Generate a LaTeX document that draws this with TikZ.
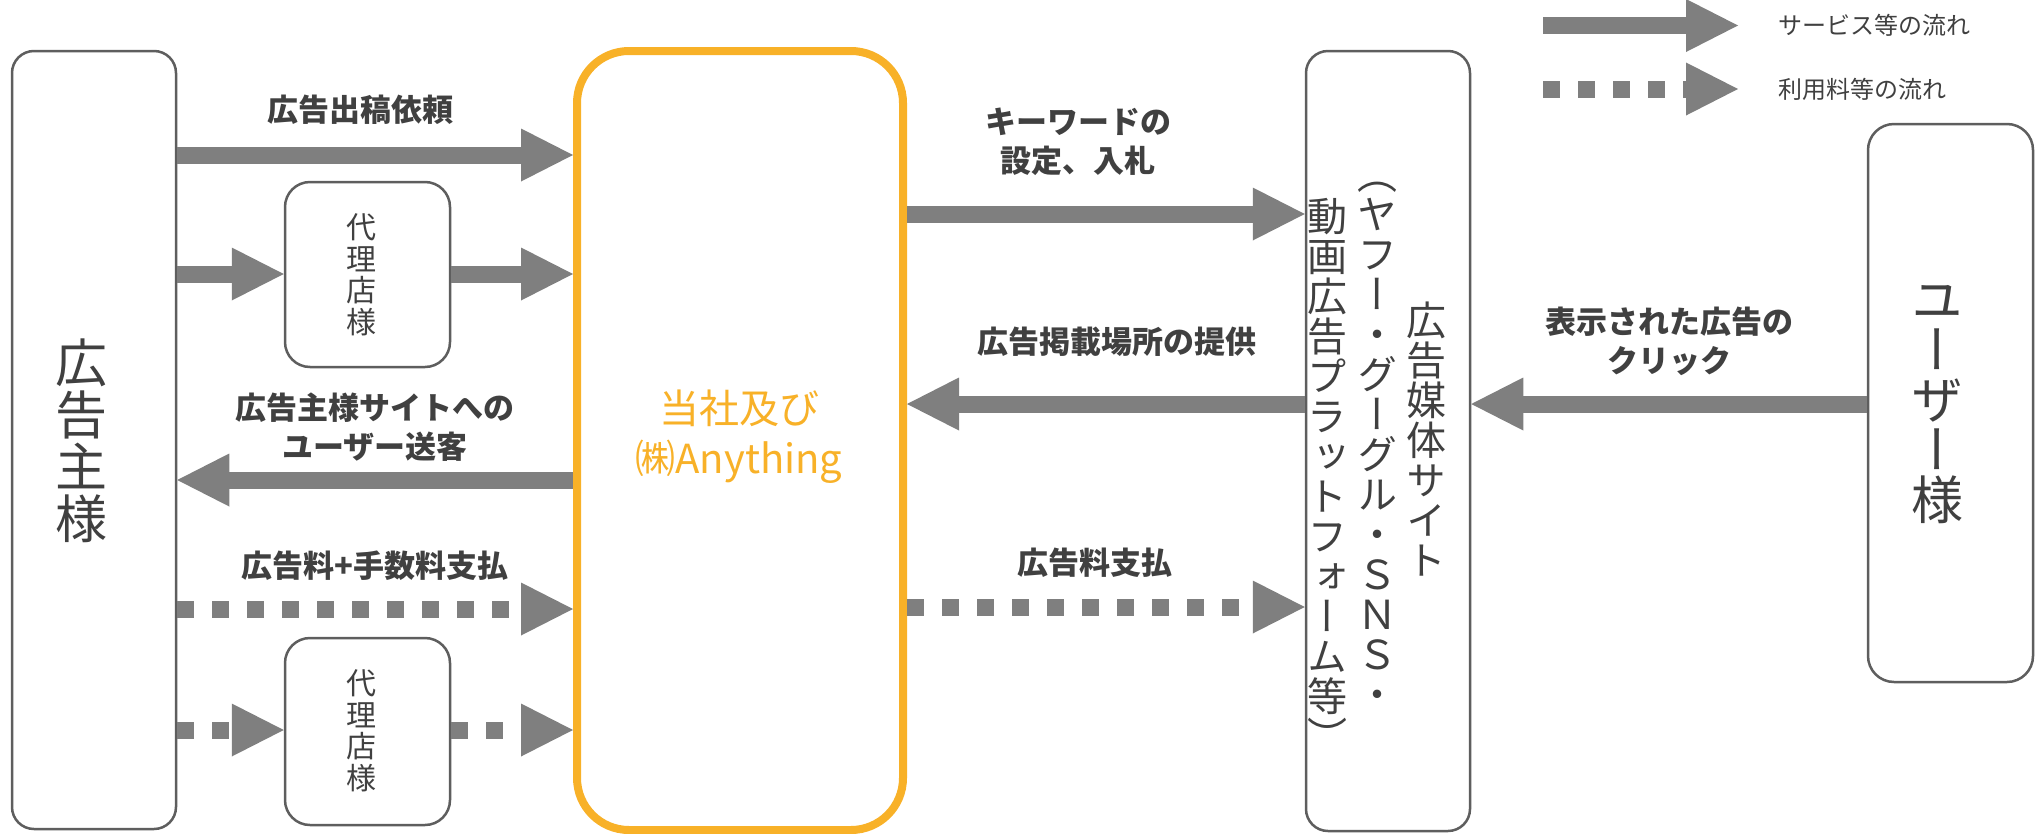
\documentclass[tikz,border=0pt]{standalone}
\usepackage{fontspec}
\setmainfont{Noto Sans CJK JP}
\newfontfamily\vjp[RawFeature=+vert]{Noto Sans CJK JP}
\usetikzlibrary{arrows.meta}
\definecolor{arrgray}{HTML}{7F7F7F}
\definecolor{boxgray}{HTML}{5E5E5E}
\definecolor{txtgray}{HTML}{404040}
\definecolor{brandorange}{HTML}{F8B128}
\begin{document}
\begin{tikzpicture}[x=1pt,y=-1pt,
  box/.style={draw=boxgray, line width=2.5pt, fill=white, inner sep=0pt, rounded corners=22pt},
  mainbox/.style={draw=brandorange, line width=8pt, fill=white, inner sep=0pt, rounded corners=52pt},
  flow/.style={draw=arrgray, line width=17pt, -{Triangle[length=52pt,width=53pt,line width=0pt]}},
  payflow/.style={flow, dash pattern=on 17pt off 18pt},
  vtext/.style={align=center, text=txtgray, inner sep=0pt},
  lbl/.style={font=\bfseries\fontsize{31}{39}\selectfont, text=txtgray, align=center, inner sep=0pt},
  legtext/.style={font=\fontsize{24}{28}\selectfont, text=txtgray, anchor=west, inner sep=0pt}]
\useasboundingbox (0,0) rectangle (2037,833);

% boxes
\node[box, minimum width=164pt, minimum height=778pt] (adv) at (94,440) {};
\node[box, rounded corners=25pt, minimum width=165pt, minimum height=185pt] (ag1) at (367.5,274.5) {};
\node[box, rounded corners=25pt, minimum width=165pt, minimum height=187pt] (ag2) at (367.5,731.5) {};
\node[mainbox, minimum width=326pt, minimum height=779pt] (any) at (740,440.5) {};
\node[box, minimum width=164pt, minimum height=780pt] (med) at (1388,441) {};
\node[box, rounded corners=26pt, minimum width=165pt, minimum height=558pt] (usr) at (1950.5,403) {};

% box texts
\node[vtext, font=\vjp\fontsize{52}{52}\selectfont] (advtxt) at (81,441) {広\\告\\主\\様};
\node[vtext, font=\vjp\fontsize{30}{31.5}\selectfont] (ag1txt) at (361,275) {代\\理\\店\\様};
\node[vtext, font=\vjp\fontsize{30}{31.5}\selectfont] (ag2txt) at (361,731) {代\\理\\店\\様};
\node[align=center, inner sep=0pt, text=brandorange, font=\fontsize{40}{50}\selectfont] (anytxt) at (739,437) {当社及び\\㈱Anything};
\node[vtext, anchor=north, font=\vjp\fontsize{40}{40}\selectfont] (medt1) at (1426,302) {広\\告\\媒\\体\\サ\\イ\\ト};
\node[vtext, anchor=north, font=\vjp\fontsize{40}{40}\selectfont] (medt2) at (1377,182) {（\\ヤ\\フ\\ー\\・\\グ\\ー\\グ\\ル\\・\\Ｓ\\Ｎ\\Ｓ\\・};
\node[vtext, anchor=north, font=\vjp\fontsize{40}{40}\selectfont] (medt3) at (1327,198) {動\\画\\広\\告\\プ\\ラ\\ッ\\ト\\フ\\ォ\\ー\\ム\\等\\）};
\node[vtext, font=\vjp\fontsize{52}{50}\selectfont] (usrtxt) at (1937,405) {ユ\\ー\\ザ\\ー\\様};

% rows
\coordinate (rA) at (0,155);
\coordinate (rB) at (0,274);
\coordinate (rC) at (0,480);
\coordinate (rD) at (0,609);
\coordinate (rE) at (0,730);
\coordinate (rF) at (0,214);
\coordinate (rG) at (0,404);
\coordinate (rH) at (0,607);

% connectors
\draw[flow] (adv.east |- rA) -- (any.west |- rA);
\draw[flow] (adv.east |- rB) -- (ag1.west |- rB);
\draw[flow] (ag1.east |- rB) -- (any.west |- rB);
\draw[flow] (any.west |- rC) -- (adv.east |- rC);
\draw[payflow] (adv.east |- rD) -- (any.west |- rD);
\draw[payflow] (adv.east |- rE) -- (ag2.west |- rE);
\draw[payflow] (ag2.east |- rE) -- (any.west |- rE);
\draw[flow] (any.east |- rF) -- (med.west |- rF);
\draw[flow] (med.west |- rG) -- (any.east |- rG);
\draw[payflow] (any.east |- rH) -- (med.west |- rH);
\draw[flow] (usr.west |- rG) -- (med.east |- rG);

% labels
\node[lbl] (l1) at (360,110) {広告出稿依頼};
\node[lbl] (l2) at (375,427) {広告主様サイトへの\\ユーザー送客};
\node[lbl] (l3) at (375,566) {広告料+手数料支払};
\node[lbl] (l4) at (1078,142) {キーワードの\\設定、入札};
\node[lbl] (l5) at (1117,342) {広告掲載場所の提供};
\node[lbl] (l6) at (1095,563) {広告料支払};
\node[lbl] (l7) at (1669,341) {表示された広告の\\クリック};

% legend
\coordinate (lgS1) at (1543,25.5);
\coordinate (lgS2) at (1738,25.5);
\coordinate (lgD1) at (1543,89);
\coordinate (lgD2) at (1738,89);
\draw[flow] (lgS1) -- (lgS2);
\draw[payflow] (lgD1) -- (lgD2);
\node[legtext] (lgSt) at (1778,25) {サービス等の流れ};
\node[legtext] (lgDt) at (1778,89) {利用料等の流れ};
\end{tikzpicture}
\end{document}
